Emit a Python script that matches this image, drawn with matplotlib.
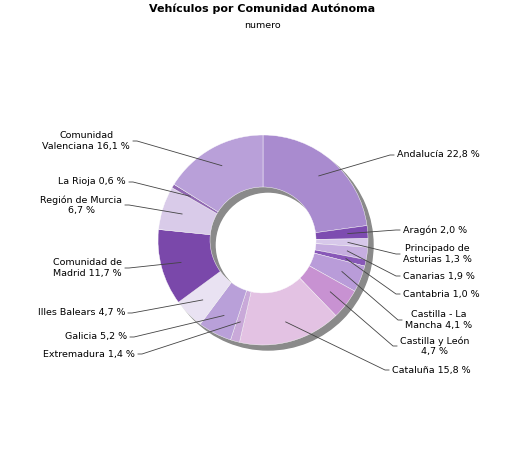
import numpy as np
import matplotlib.pyplot as plt
from matplotlib.patches import Wedge

regions = ["Andalucía", "Aragón", "Principado de\nAsturias", "Canarias", "Cantabria",
           "Castilla - La\nMancha", "Castilla y León\n", "Cataluña", "Extremadura",
           "Galicia", "Illes Balears", "Comunidad de\nMadrid", "Región de Murcia\n",
           "La Rioja", "Comunidad\nValenciana"]
shares = [22.8, 2.0, 1.3, 1.9, 1.0, 4.1, 4.7, 15.8, 1.4, 5.2, 4.7, 11.7, 6.7, 0.6, 16.1]
colors = ["#a98bcf", "#7d4cb0", "#d7c8ea", "#c6aee0", "#8858b8", "#b99cd9", "#c892d2",
          "#e3c2e3", "#c9a9d9", "#b9a0d9", "#e9e2f2", "#7a48aa", "#d9cbe9", "#9068b2", "#b9a0d9"]
# label anchor positions in pixels (x, y from top), alignment
label_pos = [(397, 155, "left"), (403, 230, "left"), (403, 254, "left"), (403, 276, "left"),
             (403, 294, "left"), (405, 320, "left"), (400, 346, "left"), (392, 370, "left"),
             (135, 354, "right"), (127, 337, "right"), (125, 313, "right"), (122, 268, "right"),
             (122, 205, "right"), (126, 182, "right"), (130, 141, "right")]

W, H = 525, 450
fig = plt.figure(figsize=(W / 100, H / 100), dpi=100)
ax = fig.add_axes([0, 0, 1, 1])
ax.set_xlim(0, W)
ax.set_ylim(0, H)
ax.axis("off")

cx, cy = 263, H - 240
r, w = 105, 52
# shadow ring
ax.add_patch(Wedge((cx + 5, cy - 5), r, 0, 360, width=w, color="#8a8a8a", zorder=1))
ax.pie(shares, colors=colors, startangle=90, counterclock=False, radius=r, center=(cx, cy),
       wedgeprops=dict(width=w, edgecolor="white", linewidth=0.3), frame=True)
ax.set_xlim(0, W)
ax.set_ylim(0, H)
ax.set_aspect("equal")
ax.axis("off")

total = sum(shares)
start = 90
for name, s, (lx, py, ha) in zip(regions, shares, label_pos):
    mid = np.deg2rad(start - s / total * 360 / 2)
    start -= s / total * 360
    px, pyy = cx + (r - 20) * np.cos(mid), cy + (r - 20) * np.sin(mid)
    ly = H - py
    ex = lx - 7 if ha == "left" else lx + 7
    ax.plot([px, ex, lx - 3 if ha == "left" else lx + 3], [pyy, ly, ly], color="#444444", lw=0.6)
    pct = f"{s:.1f}".replace(".", ",") + " %"
    txt = name + pct if name.endswith("\n") else name + " " + pct
    ax.text(lx, ly, txt, ha=ha, va="center", fontsize=6.8, multialignment="center")

ax.text(W / 2, H - 9, "Vehículos por Comunidad Autónoma", ha="center", va="center",
        fontsize=8, fontweight="bold")
ax.text(W / 2, H - 26, "numero", ha="center", va="center", fontsize=6.8)

fig.savefig("out.png", dpi=100)
